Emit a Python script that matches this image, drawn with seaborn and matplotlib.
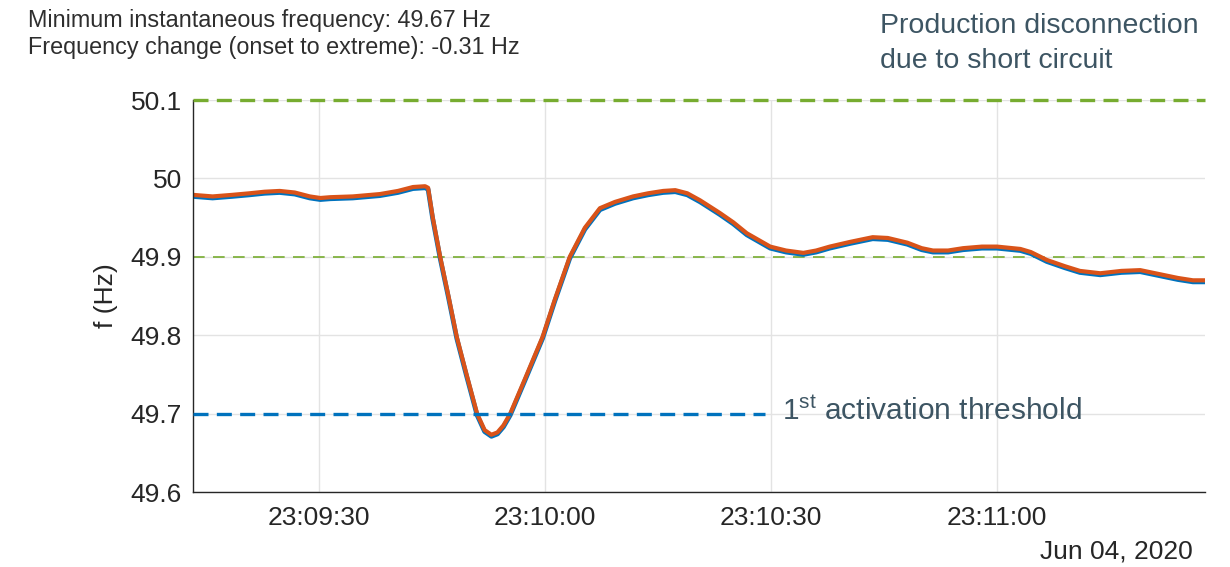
import numpy as np
import pandas as pd
import matplotlib
matplotlib.use("Agg")
import matplotlib.pyplot as plt
import matplotlib.dates as mdates
import seaborn as sns

# ---- data (seconds after 23:09:00 on 2020-06-04) ----
time_s = [13.3, 15.9, 18.5, 20.8, 22.8, 24.8, 26.8, 28.8, 30.2, 31.5, 34.5, 38.1,
          40.5, 42.5, 44.1, 44.5, 45.1, 46.1, 47.2, 48.3, 49.6, 51.0, 52.0, 52.9,
          53.7, 54.5, 55.4, 57.3, 59.7, 61.3, 63.3, 65.3, 67.3, 69.3, 71.7, 73.7,
          75.7, 77.3, 78.9, 80.6, 83.2, 85.0, 86.8, 89.9, 92.0, 94.3, 96.0, 97.8,
          100.5, 103.5, 105.5, 108.1, 110.0, 111.5, 113.5, 115.5, 118.0, 120.0,
          123.1, 124.5, 126.6, 129.0, 131.0, 133.7, 136.5, 139.0, 142.0, 144.0,
          146.0, 147.6]
freq_orange = [49.979, 49.977, 49.979, 49.981, 49.983, 49.984, 49.982, 49.977, 49.975,
               49.976, 49.977, 49.980, 49.984, 49.989, 49.990, 49.988, 49.951, 49.900,
               49.850, 49.798, 49.750, 49.700, 49.679, 49.673, 49.676, 49.685, 49.700,
               49.743, 49.798, 49.845, 49.900, 49.937, 49.962, 49.970, 49.977, 49.981,
               49.984, 49.985, 49.981, 49.972, 49.956, 49.944, 49.930, 49.913, 49.908,
               49.905, 49.908, 49.913, 49.919, 49.925, 49.924, 49.918, 49.911, 49.908,
               49.908, 49.911, 49.913, 49.913, 49.910, 49.906, 49.896, 49.888, 49.882,
               49.879, 49.882, 49.883, 49.877, 49.873, 49.870, 49.870]
freq_blue = [49.977, 49.975, 49.977, 49.979, 49.981, 49.982, 49.980, 49.975, 49.973,
             49.974, 49.975, 49.978, 49.982, 49.987, 49.988, 49.986, 49.949, 49.898,
             49.848, 49.796, 49.748, 49.698, 49.677, 49.671, 49.674, 49.683, 49.698,
             49.741, 49.796, 49.843, 49.898, 49.935, 49.960, 49.968, 49.975, 49.979,
             49.982, 49.983, 49.979, 49.970, 49.954, 49.942, 49.928, 49.911, 49.906,
             49.903, 49.906, 49.911, 49.917, 49.923, 49.922, 49.916, 49.909, 49.906,
             49.906, 49.909, 49.911, 49.911, 49.908, 49.904, 49.894, 49.886, 49.880,
             49.877, 49.880, 49.881, 49.875, 49.871, 49.868, 49.868]

y_ticks = [49.6, 49.7, 49.8, 49.9, 50.0, 50.1]
y_ticklabels = ["49.6", "49.7", "49.8", "49.9", "50", "50.1"]
x_tick_times = ["23:09:30", "23:10:00", "23:10:30", "23:11:00"]
upper_limit = 50.1
lower_band = 49.9
threshold = 49.7
threshold_end = "23:10:29.2"
x_start, x_end = "23:09:13.3", "23:11:27.6"
date_str = "2020-06-04"

# ---- styling ----
sns.set_style("white")
plt.rcParams['font.family'] = ['Liberation Sans', 'DejaVu Sans']
plt.rcParams['mathtext.fontset'] = 'custom'
plt.rcParams['mathtext.rm'] = 'Liberation Sans'

base = pd.Timestamp(date_str + " 23:09:00")
t = base + pd.to_timedelta(time_s, unit="s")
df = pd.DataFrame({"time": t, "orange": freq_orange, "blue": freq_blue})

W, H = 1230, 567
fig = plt.figure(figsize=(W / 100, H / 100), dpi=100)
ax = fig.add_axes([193 / W, 1 - 492 / H, (1205 - 193) / W, (492 - 100) / H])

c_blue = "#0072BD"
c_orange = "#D95319"
c_green = "#77AC30"
c_text = "#3d5563"
c_axis = "#262626"

ax.grid(True, color="#e3e3e3", lw=1.0)
ax.set_axisbelow(True)

sns.lineplot(data=df, x="time", y="blue", color=c_blue, lw=3.4, ax=ax)
sns.lineplot(data=df, x="time", y="orange", color=c_orange, lw=3.0, ax=ax)

xs = pd.Timestamp(f"{date_str} {x_start}")
xe = pd.Timestamp(f"{date_str} {x_end}")
ax.axhline(upper_limit, color=c_green, lw=2.4, dashes=(4.5, 2.5), clip_on=False, zorder=5)
ax.axhline(lower_band, color=c_green, lw=1.2, dashes=(7, 5), zorder=1.5)
ax.hlines(threshold, xs, pd.Timestamp(f"{date_str} {threshold_end}"), color=c_blue,
          lw=2.4, linestyles=(0, (4.5, 2.5)), clip_on=False, zorder=5)

ax.set_xlim(xs, xe)
ax.set_ylim(49.6, 50.1)
ax.set_yticks(y_ticks)
ax.set_yticklabels(y_ticklabels)
ax.set_xticks([pd.Timestamp(f"{date_str} {s}") for s in x_tick_times])
ax.xaxis.set_major_formatter(mdates.DateFormatter("%H:%M:%S"))

for s in ["top", "right"]:
    ax.spines[s].set_visible(False)
for s in ["left", "bottom"]:
    ax.spines[s].set_color(c_axis)
    ax.spines[s].set_linewidth(1.0)
ax.tick_params(axis="both", direction="in", length=9, width=1.0, color=c_axis,
               labelsize=19, labelcolor=c_axis)
ax.tick_params(axis="y", pad=8)
ax.tick_params(axis="x", pad=10)

ax.set_xlabel("")
ax.set_ylabel("f (Hz)", fontsize=19, color=c_axis)
ax.yaxis.set_label_coords((118 - 193) / 1012, 0.5)

fig.text(28 / W, 1 - 27 / H, "Minimum instantaneous frequency: 49.67 Hz",
         fontsize=16.8, color="#2e2e2e", va="baseline", ha="left")
fig.text(28 / W, 1 - 54 / H, "Frequency change (onset to extreme): -0.31 Hz",
         fontsize=16.8, color="#2e2e2e", va="baseline", ha="left")
fig.text(880 / W, 1 - 33 / H, "Production disconnection", fontsize=20.5,
         color=c_text, va="baseline", ha="left")
fig.text(880 / W, 1 - 68 / H, "due to short circuit", fontsize=20.5,
         color=c_text, va="baseline", ha="left")
fig.text(782 / W, 1 - 420 / H, r"1$^{\mathrm{st}}$ activation threshold", fontsize=21.5,
         color=c_text, va="baseline", ha="left")
fig.text(1193 / W, 1 - 558 / H, "Jun 04, 2020", fontsize=19, color=c_axis,
         va="baseline", ha="right")

fig.savefig("out.png", dpi=100)
